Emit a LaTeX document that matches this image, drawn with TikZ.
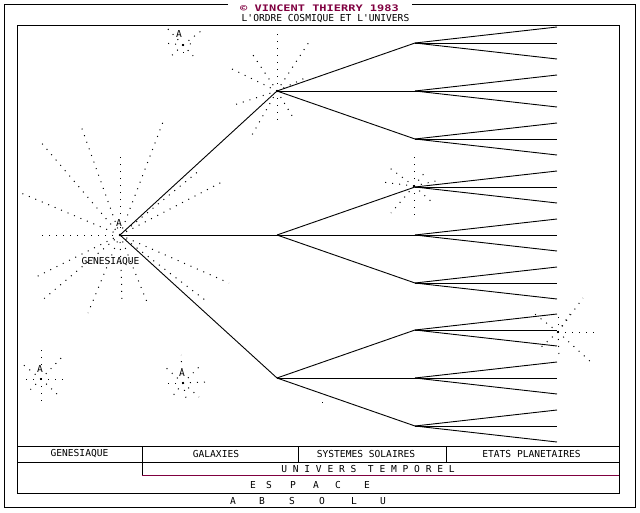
\documentclass[tikz,border=0pt]{standalone}
\usepackage{fontspec}
\newfontfamily\pix{DejaVu Sans Mono}
\definecolor{titlecol}{RGB}{128,0,64}
\begin{document}
\begin{tikzpicture}[x=1pt,y=-1pt,line width=0.9pt,
  ray/.style={line width=1pt,dash pattern=on 1pt off 6pt},
  lbl/.style={font={\pix\fontsize{9.6}{10}\selectfont},inner sep=0pt,anchor=center},
  ttl/.style={font={\pix\fontsize{9}{10}\selectfont\bfseries},text=titlecol,inner sep=0pt},
  tree/.style={line width=0.9pt}]
\useasboundingbox (0,0) rectangle (640,512);
% frames
\draw (228,4) -- (4,4) -- (4,507) -- (635,507) -- (635,4) -- (412,4);
\draw (17,25) rectangle (619,493);
% titles
\node[ttl] (title) at (319.5,8) {\scalebox{1.33}[1]{© VINCENT THIERRY 1983}};
\node[lbl] (subtitle) at (325.5,19) {L'ORDRE COSMIQUE ET L'UNIVERS};
% stars
\coordinate (sG) at (120,235);
\foreach \p in {(39,235),(21,193),(39,140),(81,126),(120,155),(163,122),(222,182),(229,283),(147,302),(122,300),(88,313),(40,302),(34,278),(200,170),(205,300)}
  \draw[ray] (sG) -- \p;
\coordinate (sT) at (277,91);
\foreach \p in {(277,28),(277,125),(251,52),(232,69),(311,39),(234,105),(252,135),(294,119),(305,78)}
  \draw[ray] (sT) -- \p;
\coordinate (sS) at (183,45);
\foreach \p in {(166,27),(201,31),(164,43),(196,43),(168,59),(196,59),(183,57)}
  \draw[ray] (sS) -- \p;
\coordinate (sM) at (414,186);
\foreach \p in {(414,155),(414,220),(387,166),(382,182),(426,171),(434,204),(391,213),(440,180)}
  \draw[ray] (sM) -- \p;
\coordinate (sR) at (558,332);
\foreach \p in {(599,332),(583,298),(592,363),(531,311),(539,349),(559,357),(558,317),(570,314)}
  \draw[ray] (sR) -- \p;
\coordinate (sL) at (41,379);
\foreach \p in {(41,350),(41,404),(22,379),(69,379),(63,356),(20,362),(57,394),(28,392)}
  \draw[ray] (sL) -- \p;
\coordinate (sB) at (183,383);
\foreach \p in {(181,355),(187,403),(162,383),(205,382),(163,365),(200,366),(172,397),(199,397)}
  \draw[ray] (sB) -- \p;
\fill (321.5,401.5) rectangle (322.5,402.5);
% star labels
\node[lbl,fill=white,inner sep=0.5pt] (gA) at (119,223) {A};
\node[lbl] (gName) at (110.5,262) {GENESIAQUE};
\node[lbl,fill=white,inner sep=0.5pt] (sSA) at (179,34) {A};
\node[lbl,fill=white,inner sep=0.5pt] (sLA) at (40,369) {A};
\node[lbl,fill=white,inner sep=0.5pt] (sBA) at (182,373) {A};
% tree
\coordinate (r) at (120,235);
\foreach \n/\y in {a/91,b/235,c/378} {
  \coordinate (\n) at (277,\y);
  \draw[tree] (r) -- (\n);
  \foreach \k/\d in {1/-48,2/0,3/48} {
    \coordinate (\n\k) at (415,\y+\d);
    \draw[tree] (\n) -- (\n\k);
    \foreach \j/\e in {1/-16,2/0,3/16} {
      \coordinate (\n\k l\j) at (557,\y+\d+\e);
      \draw[tree] (\n\k) -- (\n\k l\j);
    }
  }
}
% table
\draw (17,446) -- (619,446);
\draw (17,462) -- (619,462);
\draw[titlecol] (142,475) -- (619,475);
\draw (142,446) -- (142,475);
\draw (298,446) -- (298,462);
\draw (446,446) -- (446,462);
\node[lbl] (cG) at (79.5,454) {GENESIAQUE};
\node[lbl] (cGa) at (216,454) {GALAXIES};
\node[lbl] (cS) at (366,454) {SYSTEMES SOLAIRES};
\node[lbl] (cE) at (531.5,454) {ETATS PLANETAIRES};
\node[lbl] (uT) at (368,468.5) {U N I V E R S\ \ T E M P O R E L};
\foreach \l/\x [count=\i] in {E/253,S/269,P/293,A/316,C/338,E/367}
  \node[lbl] (esp\i) at (\x,485) {\l};
\foreach \l/\x [count=\i] in {A/233,B/262,S/292,O/322,L/354,U/383}
  \node[lbl] (abs\i) at (\x,501) {\l};
\end{tikzpicture}
\end{document}
